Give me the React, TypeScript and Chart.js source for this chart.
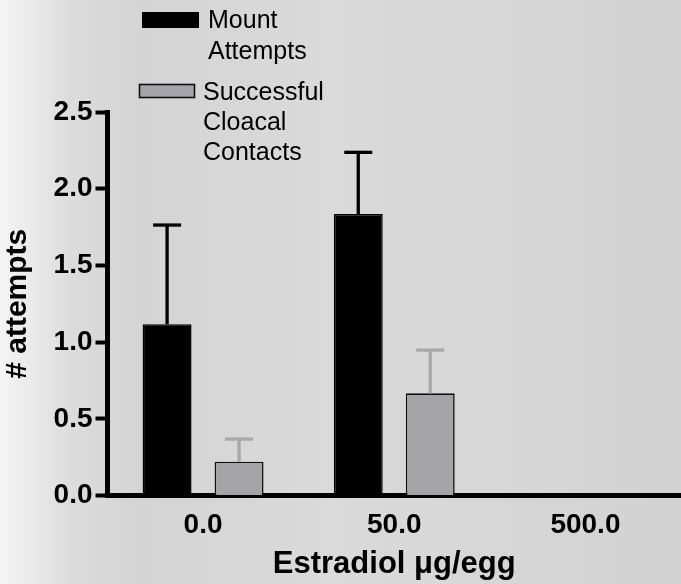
import React, { useEffect, useRef } from 'react';
import { Chart, registerables } from 'chart.js';

Chart.register(...registerables);

const categories = ['0.0', '50.0', '500.0'];
const mountAttempts = [1.116, 1.835, null];
const mountAttemptsSem = [0.647, 0.402, null];
const cloacalContacts = [0.22, 0.666, null];
const cloacalContactsSem = [0.148, 0.282, null];
const yTicks = [0, 0.5, 1.0, 1.5, 2.0, 2.5];
const mountLabel = ['Mount', 'Attempts'];
const contactLabel = ['Successful', 'Cloacal', 'Contacts'];
const xTitle = 'Estradiol μg/egg';
const yTitle = '# attempts';

const FONT = '"Liberation Sans", Arial, Helvetica, sans-serif';

const errorBarsPlugin = {
  id: 'errorBars',
  afterDatasetsDraw(chart: any) {
    const ctx = chart.ctx;
    const yScale = chart.scales.y;
    chart.data.datasets.forEach((ds: any, i: number) => {
      const meta = chart.getDatasetMeta(i);
      meta.data.forEach((bar: any, j: number) => {
        const v = ds.data[j];
        const e = ds.errors[j];
        if (v == null || e == null) return;
        const top = yScale.getPixelForValue(v + e);
        ctx.save();
        ctx.strokeStyle = ds.errorColor;
        ctx.lineWidth = 3.3;
        ctx.lineCap = 'butt';
        ctx.beginPath();
        ctx.moveTo(bar.x, bar.y);
        ctx.lineTo(bar.x, top);
        ctx.stroke();
        ctx.beginPath();
        ctx.moveTo(bar.x - 14, top);
        ctx.lineTo(bar.x + 14, top);
        ctx.stroke();
        ctx.restore();
      });
    });
  },
};

const legendPlugin = {
  id: 'stackedLegend',
  afterDraw(chart: any) {
    const ctx = chart.ctx;
    const ds = chart.data.datasets;
    ctx.save();
    ctx.font = `25px ${FONT}`;
    ctx.textBaseline = 'alphabetic';
    ctx.textAlign = 'left';
    // item 1
    ctx.fillStyle = ds[0].backgroundColor;
    ctx.fillRect(142, 12, 57, 16);
    ctx.fillStyle = '#000';
    (ds[0].label as string[]).forEach((t, k) => ctx.fillText(t, 208, 28 + k * 31));
    // item 2
    ctx.fillStyle = ds[1].backgroundColor;
    ctx.fillRect(139.5, 84.5, 55, 13);
    ctx.strokeStyle = '#111';
    ctx.lineWidth = 1.6;
    ctx.strokeRect(139.5, 84.5, 55, 13);
    ctx.fillStyle = '#000';
    (ds[1].label as string[]).forEach((t, k) => ctx.fillText(t, 203, 100 + k * 30));
    ctx.restore();
  },
};

export default function App() {
  const ref = useRef<HTMLCanvasElement | null>(null);
  useEffect(() => {
    if (!ref.current) return;
    const chart = new Chart(ref.current, {
      type: 'bar',
      data: {
        labels: categories,
        datasets: [
          {
            label: mountLabel as any,
            data: mountAttempts as any,
            errors: mountAttemptsSem,
            errorColor: '#000000',
            backgroundColor: '#000000',
            borderColor: '#000000',
            borderWidth: 1.5,
          } as any,
          {
            label: contactLabel as any,
            data: cloacalContacts as any,
            errors: cloacalContactsSem,
            errorColor: '#a8a8a8',
            backgroundColor: '#a4a4a8',
            borderColor: '#111111',
            borderWidth: 1.6,
          } as any,
        ],
      },
      options: {
        animation: false,
        responsive: true,
        maintainAspectRatio: false,
        layout: { padding: { top: 112, left: 0, right: 0, bottom: 0 } },
        datasets: { bar: { categoryPercentage: 0.753, barPercentage: 0.68 } },
        plugins: { legend: { display: false }, tooltip: { enabled: false } },
        scales: {
          x: {
            z: 1,
            afterFit: (s: any) => { s.height = 88.5; },
            grid: { display: false, drawTicks: false },
            border: { display: true, color: '#000', width: 5 },
            ticks: {
              color: '#000',
              padding: 13,
              font: { family: FONT, size: 28, weight: 'bold' },
            },
            title: {
              display: true,
              text: xTitle,
              color: '#000',
              padding: { top: 0, bottom: 1 },
              font: { family: FONT, size: 31, weight: 'bold' },
            },
          },
          y: {
            z: 1,
            min: 0,
            max: 2.5,
            afterFit: (s: any) => { s.width = 107.5; },
            afterBuildTicks: (s: any) => { s.ticks = yTicks.map((v) => ({ value: v })); },
            grid: {
              display: true,
              drawOnChartArea: false,
              drawTicks: true,
              tickLength: 12,
              tickWidth: 4,
              tickColor: '#000',
              color: '#000',
            },
            border: { display: true, color: '#000', width: 5 },
            ticks: {
              color: '#000',
              padding: 3,
              font: { family: FONT, size: 28, weight: 'bold' },
              callback: (v: any) => Number(v).toFixed(1),
            },
            title: {
              display: true,
              text: yTitle,
              color: '#000',
              padding: { top: 0, bottom: 0 },
              font: { family: FONT, size: 30, weight: 'bold' },
            },
          },
        },
      } as any,
      plugins: [errorBarsPlugin, legendPlugin],
    });
    return () => chart.destroy();
  }, []);

  return (
    <div
      style={{
        position: 'fixed',
        left: 0,
        top: 0,
        width: 681,
        height: 584,
        background:
          'linear-gradient(to right, #f4f4f4 0px, #ececec 25px, #dcdcdc 70px, #d4d4d4 140px, #dadada 330px, #d6d6d6 520px, #d2d2d2 681px)',
      }}
    >
      <canvas ref={ref} />
    </div>
  );
}
